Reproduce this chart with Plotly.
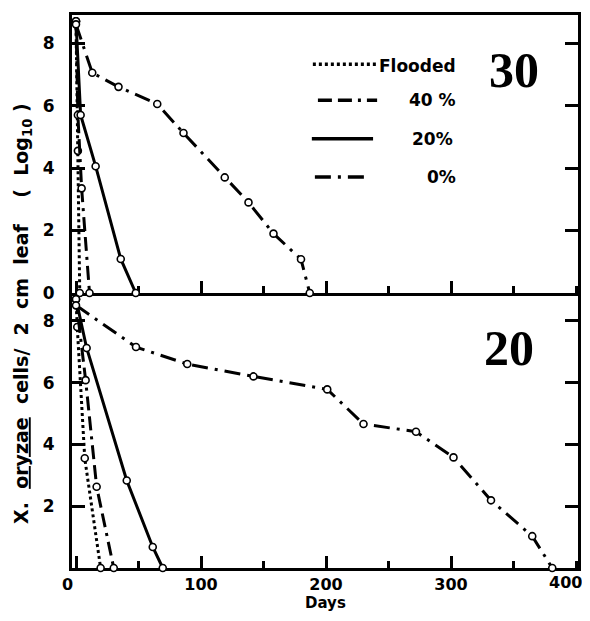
import plotly.graph_objects as go
from plotly.subplots import make_subplots

# ---------------- data ----------------
# Panel "30" (top)
t30_flooded_days = [0, 1.5, 3]
t30_flooded_vals = [8.7, 4.55, 0]
t30_40_days = [0, 1.5, 4.5, 10.8]
t30_40_vals = [8.7, 5.7, 3.35, 0]
t30_20_days = [0, 3.7, 15.7, 35.8, 47.8]
t30_20_vals = [8.7, 5.7, 4.06, 1.09, 0]
t30_0_days = [0, 13, 34, 65, 86, 119, 138, 158, 180, 187]
t30_0_vals = [8.6, 7.05, 6.6, 6.05, 5.12, 3.7, 2.9, 1.9, 1.08, 0]

# Panel "20" (bottom)
t20_flooded_days = [0, 1, 7, 19.7]
t20_flooded_vals = [8.7, 7.8, 3.55, 0]
t20_40_days = [0, 7.7, 16.5, 30.2]
t20_40_vals = [8.7, 6.08, 2.63, 0]
t20_20_days = [0, 8.5, 40.6, 61.4, 69.4]
t20_20_vals = [8.7, 7.12, 2.83, 0.68, 0]
t20_0_days = [0, 48, 89, 142, 201, 230, 272, 302, 332, 365, 381]
t20_0_vals = [8.5, 7.15, 6.6, 6.2, 5.78, 4.66, 4.41, 3.58, 2.19, 1.03, 0]

x_ticks = [0, 100, 200, 300]
x_ticktext = ["0&nbsp;&nbsp;&nbsp;", "100", "200", "300"]
x_last_tick = 400
y_ticks_top = [0, 2, 4, 6, 8]
y_ticks_bottom = [2, 4, 6, 8]
labels = ["Flooded", "40 %", "20%", "0%"]
panel_labels = ["30", "20"]
x_title = "Days"

# ---------------- styles ----------------
DOT = "3px,3px"
DASH40 = "14px,6px,14px,6px,3px,6px"
SOLID = "solid"
DASHDOT = "16px,7px,3px,7px"
styles = [DOT, DASH40, SOLID, DASHDOT]
LW = 3

fig = make_subplots(rows=2, cols=1, shared_xaxes=True, vertical_spacing=0)

panels = [
    [(t30_flooded_days, t30_flooded_vals), (t30_40_days, t30_40_vals),
     (t30_20_days, t30_20_vals), (t30_0_days, t30_0_vals)],
    [(t20_flooded_days, t20_flooded_vals), (t20_40_days, t20_40_vals),
     (t20_20_days, t20_20_vals), (t20_0_days, t20_0_vals)],
]

for r, series in enumerate(panels, start=1):
    for (d, v), dash, name in zip(series, styles, labels):
        fig.add_trace(go.Scatter(
            x=d, y=v, mode="lines+markers", name=name, showlegend=False,
            line=dict(color="black", width=LW, dash=dash),
            marker=dict(symbol="circle", size=7, color="white",
                        line=dict(color="black", width=1.6)),
            cliponaxis=False,
        ), row=r, col=1)

axis_font = dict(family="DejaVu Sans", size=16, color="black", weight="bold")

common_x = dict(range=[-3.2, 401.6], showline=True, linewidth=3, linecolor="black",
                ticks="inside", ticklen=12, tickwidth=3, tickcolor="black",
                tickvals=x_ticks, ticktext=x_ticktext, showgrid=False, zeroline=False,
                layer="below traces", automargin=False,
                minor=dict(dtick=50, ticks="inside", ticklen=7, tickwidth=3,
                           tickcolor="black", showgrid=False))
fig.update_xaxes(**common_x, mirror=True, showticklabels=False, row=1, col=1)
fig.update_xaxes(**common_x, mirror=False, showticklabels=True, tickfont=axis_font,
                 ticklabelstandoff=0, row=2, col=1)

common_y = dict(range=[0, 8.9], showline=True, linewidth=3, linecolor="black",
                mirror="ticks", ticks="inside", ticklen=13, tickwidth=3, tickcolor="black",
                showgrid=False, zeroline=False, layer="below traces", automargin=False,
                tickfont=dict(family="DejaVu Sans", size=17, color="black", weight="bold"),
                ticklabelstandoff=11)
fig.update_yaxes(**common_y, tickvals=y_ticks_top, domain=[0.4973, 1.0], row=1, col=1)
fig.update_yaxes(**common_y, tickvals=y_ticks_bottom, domain=[0.0, 0.4973], row=2, col=1)

# ---------------- legend (drawn inside top panel) ----------------
leg_rows_y = [0.911, 0.846, 0.776, 0.707]
leg_x0 = [0.476, 0.486, 0.474, 0.480]
leg_x1 = [0.605, 0.603, 0.595, 0.585]
shapes = []
for y, x0, x1, dash in zip(leg_rows_y, leg_x0, leg_x1, styles):
    shapes.append(dict(type="line", xref="paper", yref="paper", x0=x0, x1=x1, y0=y, y1=y,
                       line=dict(color="black", width=3.5, dash=dash)))
fig.update_layout(shapes=shapes)

leg_font = dict(family="DejaVu Sans", size=17, color="black")
annotations = [
    dict(text="<b>" + labels[0] + "</b>", x=0.603, y=0.907, xanchor="left", yanchor="middle"),
    dict(text="<b>" + labels[1] + "</b>", x=0.763, y=0.846, xanchor="right", yanchor="middle"),
    dict(text="<b>" + labels[2] + "</b>", x=0.757, y=0.776, xanchor="right", yanchor="middle"),
    dict(text="<b>" + labels[3] + "</b>", x=0.763, y=0.707, xanchor="right", yanchor="middle"),
]
for a in annotations:
    a.update(xref="paper", yref="paper", showarrow=False, font=leg_font)

big_font = dict(family="Liberation Serif", size=50, color="black", weight="bold")
annotations += [
    dict(text="<b>" + panel_labels[0] + "</b>", x=0.874, y=0.900, xref="paper", yref="paper",
         showarrow=False, font=big_font, xanchor="center", yanchor="middle"),
    dict(text="<b>" + panel_labels[1] + "</b>", x=0.864, y=0.398, xref="paper", yref="paper",
         showarrow=False, font=big_font, xanchor="center", yanchor="middle"),
    dict(text="<b>X.  <u>oryzae</u>  cells/  2  cm  leaf    (  Log<sub>10</sub> )</b>",
         x=-0.099, y=0.461, xref="paper", yref="paper", textangle=-90, showarrow=False,
         font=dict(family="DejaVu Sans", size=19, color="black"),
         xanchor="center", yanchor="middle"),
    dict(text="<b>" + x_title + "</b>", x=0.5, y=-0.0805, xref="paper", yref="paper",
         showarrow=False, font=dict(family="DejaVu Sans", size=15, color="black"),
         xanchor="center", yanchor="bottom", borderpad=0),
    # last x tick label, nudged left of the right border as in the reference
    dict(text=str(x_last_tick), x=x_last_tick, xref="x2", y=-0.0265, yref="paper",
         xshift=-11, showarrow=False, font=axis_font, xanchor="center", yanchor="middle"),
]
fig.update_layout(annotations=annotations)

# page body has an 8px default margin: size the figure so the page is exactly 590x621
fig.update_layout(
    width=574, height=605,
    margin=dict(l=64, r=4, t=7, b=45),
    paper_bgcolor="white", plot_bgcolor="white",
    showlegend=False,
)

fig.write_html("out.html")
